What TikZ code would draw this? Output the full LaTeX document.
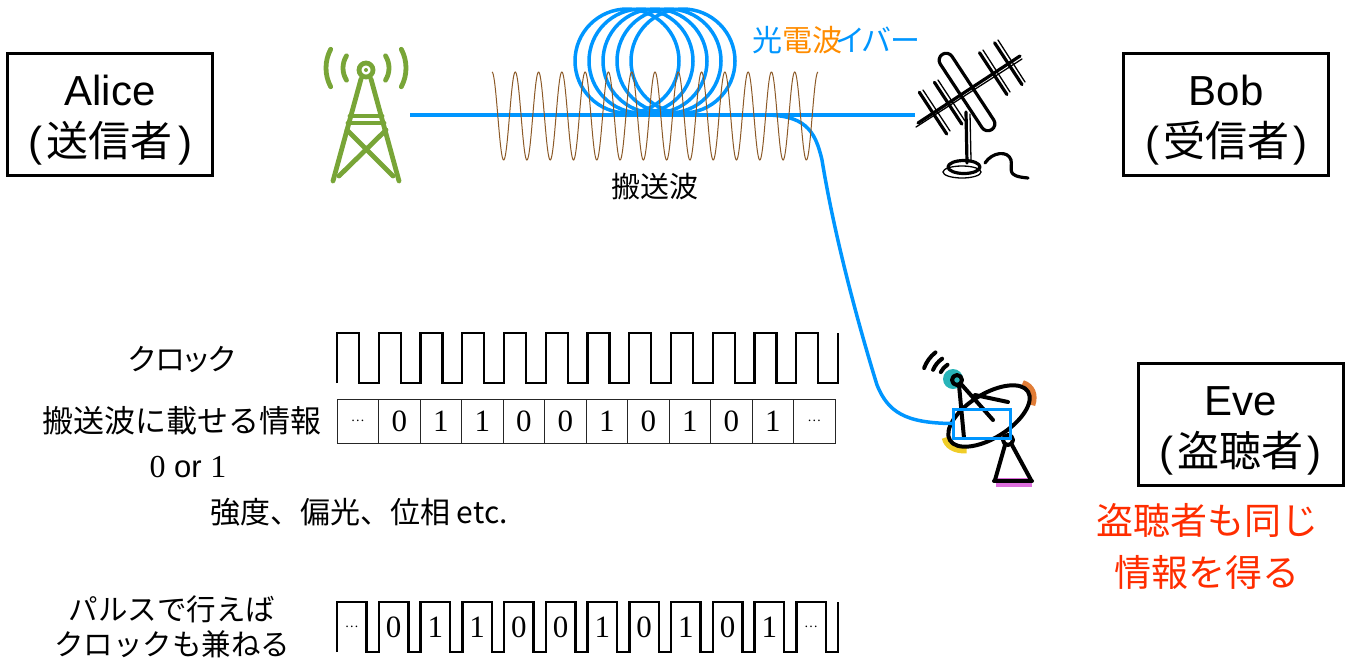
\documentclass[tikz,border=0pt]{standalone}
\usepackage{fontspec}
\setmainfont{Liberation Sans}
\newfontfamily\jp{Noto Sans CJK JP}
\newfontfamily\jpp{Noto Sans CJK JP}[RawFeature=+palt]
\newfontfamily\serif{Liberation Serif}
\usetikzlibrary{calc}
\newcommand\fsz[2]{\fontsize{#1}{#2}\selectfont}
\newcommand\toproom{\rule{0pt}{42pt}}

\definecolor{fiber}{RGB}{0,150,255}
\definecolor{towergreen}{RGB}{120,165,55}
\definecolor{carrier}{RGB}{140,90,40}
\definecolor{radio}{RGB}{255,140,0}
\definecolor{alert}{RGB}{255,45,0}
\definecolor{eyecyan}{RGB}{40,180,185}
\definecolor{dishorange}{RGB}{225,125,55}
\definecolor{dishyellow}{RGB}{240,205,40}
\definecolor{basepink}{RGB}{220,110,220}

\begin{document}
\begin{tikzpicture}[x=1pt,y=-1pt,
  party/.style={draw, line width=3, minimum width=205, minimum height=122,
    align=center, inner sep=0, font=\fsz{42}{51}},
  fiberline/.style={fiber, line width=3.5},
  icon/.style={line width=3.5, line cap=round, line join=round},
  sketch/.style={line width=1.3, line cap=round},
  bitcell/.style={draw=black!85, line width=1, minimum width=41.5,
    minimum height=44, inner sep=0, font=\serif\fsz{31}{31}},
  pulsebit/.style={inner sep=0, font=\serif\fsz{31}{31}},
  lbl/.style={inner sep=0, font=\jp\fsz{30}{30}},
  wave/.style={line width=2.2, line join=miter},
]
\useasboundingbox (0,0) rectangle (1351,662);

% ---- parties ----
\node[party] (alice) at (110,114) {\toproom Alice\\(\kern5pt{\jp 送信者}\kern5pt)};
\node[party] (bob) at (1226,114) {\toproom Bob\\(\kern4pt{\jp 受信者}\kern4pt)};
\node[party] (eve) at (1240.5,424.5) {\toproom Eve\\(\kern4pt{\jp 盗聴者}\kern4pt)};
\node[align=center, inner sep=0, text=alert, font=\jp\fsz{37}{52}] (evenote)
  at (1207,546) {盗聴者も同じ\\情報を得る};

% ---- transmitting tower ----
\begin{scope}[towergreen, icon, line width=4.8]
  \draw (366,70) circle[radius=7];
  \fill (366,70) circle[radius=2];
  \draw (361,79) -- (333,181);
  \draw (371,79) -- (399,181);
  \draw (350,116) -- (382,116);
  \draw (348,123) -- (384,123);
  \draw (347,130) -- (393,176);
  \draw (386,130) -- (339,176);
  \draw (366,68) ++(148:23) arc[start angle=148, end angle=212, radius=23];
  \draw (366,68) ++(152:40) arc[start angle=152, end angle=208, radius=40];
  \draw (366,68) ++(-32:23) arc[start angle=-32, end angle=32, radius=23];
  \draw (366,68) ++(-28:40) arc[start angle=-28, end angle=28, radius=40];
\end{scope}

% ---- receiving antenna ----
\begin{scope}[icon, line width=3.2]
  \draw (918,123) -- (1020,56);
  \draw (919.3,92.2) -- (946.7,134.0);
  \draw (934.4,82.3) -- (961.8,124.1);
  \draw (979.5,52.7) -- (1006.9,94.5);
  \draw (994.6,42.8) -- (1022.0,84.6);
  \draw[rounded corners=7, rotate around={-56.7:(967,92)}]
    (922,85) rectangle (1012,99);
  \draw (966,112) -- (967,163);
  \draw (964,167) ellipse[x radius=16, y radius=6.5];
  \draw (985,163) .. controls (992,152) and (1008,150) .. (1011,160)
    .. controls (1013,170) and (1005,176) .. (1028,178);
\end{scope}
\begin{scope}[sketch]
  \draw (916,127) -- (1022,59);
  \draw (923,90) -- (950,131);
  \draw (938,80) -- (965,121);
  \draw (983,50) -- (1010,92);
  \draw (998,40) -- (1025,82);
  \draw (970,114) -- (971,160);
  \draw (962,172) ellipse[x radius=19, y radius=6];
\end{scope}

% ---- eavesdropper's dish ----
\fill[eyecyan] (953,379) circle[radius=10];
\begin{scope}[rotate around={32:(989,416)}]
  \draw[dishorange, line width=6] (989,416) ++(-23:50 and 26)
    arc[start angle=-23, end angle=32, x radius=50, y radius=26];
  \draw[dishyellow, line width=6] (989,416) ++(138:50 and 26)
    arc[start angle=138, end angle=191, x radius=50, y radius=26];
  \draw[icon, line width=4] (989,416) ellipse[x radius=46, y radius=22];
\end{scope}
\fill[basepink] (996,478) rectangle (1032,487);
\begin{scope}[icon, line width=4]
  \draw (957,380) circle[radius=5];
  \draw (957,380) ++(200:35) arc[start angle=200, end angle=232, radius=35];
  \draw (957,380) ++(203:26) arc[start angle=203, end angle=235, radius=26];
  \draw (957,380) ++(206:18) arc[start angle=206, end angle=238, radius=18];
  \draw (959,385) -- (964,438);
  \draw (961,384) -- (993,420);
  \draw (975,395) -- (1008,402);
  \draw (1008,440) circle[radius=5];
  \draw (1005,445) -- (995,480);
  \draw (1012,445) -- (1031,480);
  \draw (994,481) -- (1032,481);
\end{scope}

% ---- optical fibre with coil ----
\coordinate (txout) at (410,115);
\coordinate (rxin) at (915,115);
\coordinate (split) at (760,115);
\foreach \k in {0,...,4}
  \draw[fiberline] (627+14*\k,61) circle[radius=52];
\draw[fiberline] (txout) -- (rxin);
\node[draw=fiber, line width=3, minimum width=57, minimum height=29, inner sep=0]
  (tap) at (982,423.5) {};
\draw[fiberline] (split) .. controls (805,114) and (815,130) .. (822,160)
  .. controls (835,240) and (860,330) .. (877,385)
  .. controls (888,412) and (905,423) .. (tap.west);
\node[anchor=west, inner sep=0, font=\jpp\fsz{30}{30}] (fiberlbl) at (752,40)
  {\textcolor{fiber}{光}\textcolor{radio}{電波}\kern-6pt\textcolor{fiber}{イバー}};

% ---- carrier wave ----
\draw[carrier, line width=1] plot[domain=0:326, samples=600, smooth]
  ({492+\x}, {116 - 44*cos(\x*15.46012)});
\node[lbl, font=\jp\fsz{29}{29}] (carrierlbl) at (655,187) {搬送波};

% ---- clock ----
\node[lbl, font=\jpp\fsz{30}{30}] (clocklbl) at (182,360) {クロック};
\draw[wave] (337,383) foreach \i in {0,...,11} {
    -- ++(0,-50) -- ++(22,0) -- ++(0,50) -- ++(19.75,0) } -- ++(0,-50);

% ---- bits on the carrier ----
\node[lbl, font=\jp\fsz{31}{31}] (infolbl) at (182,421) {搬送波に載せる情報};
\foreach \i/\b in {0/{\fsz{14}{14}…}, 1/0, 2/1, 3/1, 4/0, 5/0, 6/1, 7/0, 8/1, 9/0, 10/1, 11/{\fsz{14}{14}…}}
  \node[bitcell] (b\i) at (357.75+41.5*\i,421) {\b};
\node[inner sep=0, font=\fsz{31}{31}] (binlbl) at (188,467)
  {{\serif\fsz{32}{32}0} or {\serif\fsz{32}{32}1}};
\node[lbl, font=\jp\fsz{30}{30}] (propslbl) at (359,512) {強度、偏光、位相 etc.};

% ---- pulses ----
\node[lbl, align=center, font=\jp\fsz{29.5}{35}] (pulselbl) at (172,627)
  {パルスで行えば\\クロックも兼ねる};
\draw[wave, line width=2.5] (337,652) foreach \i in {0,...,11} {
    -- ++(0,-50) -- ++(29.5,0) -- ++(0,50) -- ++(12.25,0) } -- ++(0,-50);
\foreach \i/\b in {0/{\fsz{14}{14}…}, 1/0, 2/1, 3/1, 4/0, 5/0, 6/1, 7/0, 8/1, 9/0, 10/1, 11/{\fsz{14}{14}…}}
  \node[pulsebit] (p\i) at (351.75+41.75*\i,627) {\b};
\end{tikzpicture}
\end{document}
